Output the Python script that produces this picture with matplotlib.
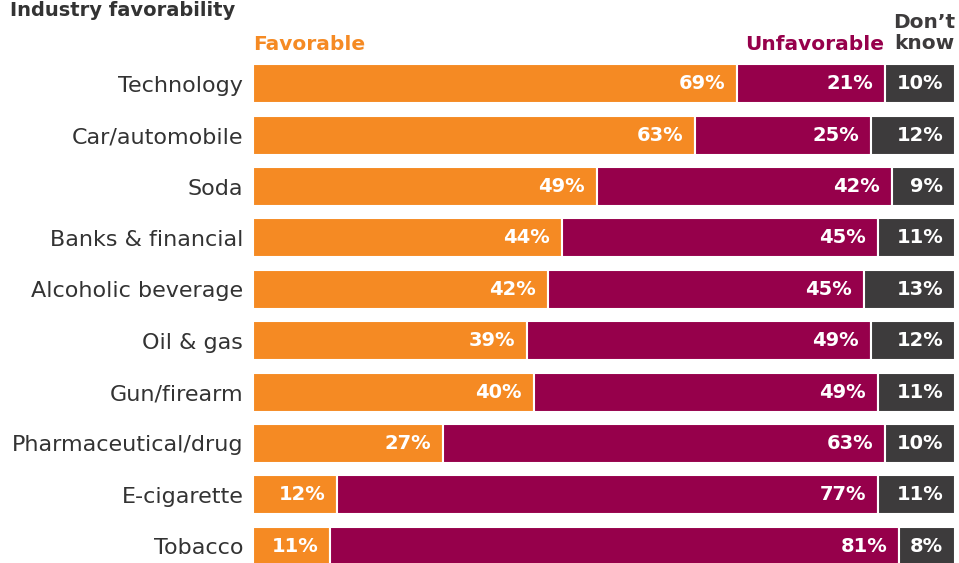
"""
Industry favorability: stacked horizontal bars.
"""

import matplotlib.pyplot as plt

categories = ['Technology', 'Car/automobile', 'Soda', 'Banks & financial',
              'Alcoholic beverage', 'Oil & gas', 'Gun/firearm',
              'Pharmaceutical/drug', 'E-cigarette', 'Tobacco']
favorable = [69, 63, 49, 44, 42, 39, 40, 27, 12, 11]
unfavorable = [21, 25, 42, 45, 45, 49, 49, 63, 77, 81]
dont_know = [10, 12, 9, 11, 13, 12, 11, 10, 11, 8]

ORANGE = '#F58A23'
PURPLE = '#96004B'
GREY = '#3D3B3C'

W, H = 959, 563
fig = plt.figure(figsize=(W / 100, H / 100), dpi=100)

# axes placed in pixel terms: rows 51.3 px apart, first row centred at y=84
left, right = 253, 955
top, bottom = 58.3, 571.7
ax = fig.add_axes([left / W, (H - bottom) / H,
                   (right - left) / W, (bottom - top) / H])

rows = range(len(categories))
starts_unfav = [f for f in favorable]
starts_dk = [f + u for f, u in zip(favorable, unfavorable)]

for values, starts, color in [(favorable, [0] * len(favorable), ORANGE),
                              (unfavorable, starts_unfav, PURPLE),
                              (dont_know, starts_dk, GREY)]:
    ax.barh(rows, values, left=starts, height=0.76, color=color,
            edgecolor='white', linewidth=1.5)
    # value labels, right aligned inside each segment
    for i, (v, s) in enumerate(zip(values, starts)):
        ax.annotate(f'{v}%', xy=(s + v, i), xytext=(-8.5, 0),
                    textcoords='offset points', ha='right', va='center',
                    color='white', fontsize=14, fontweight='bold')

ax.set_xlim(0, 100)
ax.set_ylim(len(categories) - 0.5, -0.5)
ax.set_yticks(list(rows))
ax.set_yticklabels(categories, fontsize=16, color='#333333')
ax.tick_params(axis='y', length=0, pad=7)
ax.set_xticks([])
for spine in ax.spines.values():
    spine.set_visible(False)

# header texts
fig.text(10 / W, 1 - 1 / H, 'Industry favorability', fontsize=14,
         fontweight='bold', color='#333333', ha='left', va='top')
fig.text(left / W, 1 - 44 / H, 'Favorable', fontsize=14.5, fontweight='bold',
         color=ORANGE, ha='left', va='center')
fig.text(884 / W, 1 - 44 / H, 'Unfavorable', fontsize=14.5, fontweight='bold',
         color=PURPLE, ha='right', va='center')
fig.text(955 / W, 1 - 33 / H, 'Don\u2019t\nknow', fontsize=14.5,
         fontweight='bold', color=GREY, ha='right', va='center',
         linespacing=1.1)

fig.savefig('out.png', dpi=100)
